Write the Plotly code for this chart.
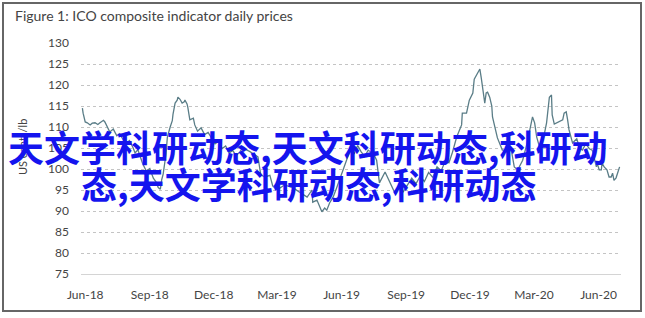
import plotly.graph_objects as go

# ---- data ----
dates = [
    "2018-05-28", "2018-05-29", "2018-06-01", "2018-06-04", "2018-06-08", "2018-06-11", "2018-06-15",
    "2018-06-19", "2018-06-22", "2018-06-27", "2018-06-29", "2018-07-02", "2018-07-06", "2018-07-11",
    "2018-07-16", "2018-07-20", "2018-07-25", "2018-07-30", "2018-08-03", "2018-08-08", "2018-08-11",
    "2018-08-15", "2018-08-18", "2018-08-22", "2018-08-27", "2018-09-01", "2018-09-06", "2018-09-10",
    "2018-09-13", "2018-09-16", "2018-09-18", "2018-09-20", "2018-09-24", "2018-09-26", "2018-09-30",
    "2018-10-03", "2018-10-04", "2018-10-07", "2018-10-10", "2018-10-11", "2018-10-14", "2018-10-17",
    "2018-10-20", "2018-10-21", "2018-10-24", "2018-10-25", "2018-10-28", "2018-11-02", "2018-11-04",
    "2018-11-08", "2018-11-13", "2018-11-18", "2018-11-23", "2018-11-28", "2018-12-03", "2018-12-08",
    "2018-12-13", "2018-12-18", "2018-12-23", "2018-12-28", "2019-01-02", "2019-01-07", "2019-01-11",
    "2019-01-21", "2019-01-29", "2019-02-02", "2019-02-06", "2019-02-12", "2019-02-19", "2019-02-23",
    "2019-03-01", "2019-03-12", "2019-03-24", "2019-04-03", "2019-04-13", "2019-04-20", "2019-04-21",
    "2019-04-27", "2019-05-01", "2019-05-04", "2019-05-08", "2019-05-11", "2019-05-15", "2019-05-20",
    "2019-05-25", "2019-05-30", "2019-06-04", "2019-06-09", "2019-06-14", "2019-06-19", "2019-06-24",
    "2019-06-29", "2019-07-04", "2019-07-09", "2019-07-17", "2019-07-21", "2019-07-25", "2019-08-02",
    "2019-08-09", "2019-08-16", "2019-08-22", "2019-08-28", "2019-09-03", "2019-09-09", "2019-09-15",
    "2019-09-21", "2019-09-27", "2019-10-03", "2019-10-09", "2019-10-15", "2019-10-21", "2019-10-27",
    "2019-11-01", "2019-11-06", "2019-11-12", "2019-11-19", "2019-11-20", "2019-11-26", "2019-11-30",
    "2019-12-05", "2019-12-07", "2019-12-12", "2019-12-15", "2019-12-17", "2019-12-19", "2019-12-22",
    "2019-12-24", "2019-12-26", "2019-12-29", "2020-01-01", "2020-01-02", "2020-01-05", "2020-01-09",
    "2020-01-16", "2020-01-23", "2020-01-29", "2020-02-02", "2020-02-07", "2020-02-14", "2020-02-20",
    "2020-02-28", "2020-03-02", "2020-03-05", "2020-03-09", "2020-03-16", "2020-03-19", "2020-03-23",
    "2020-03-26", "2020-03-27", "2020-03-30", "2020-04-02", "2020-04-06", "2020-04-11", "2020-04-13",
    "2020-04-16", "2020-04-18", "2020-04-20", "2020-04-25", "2020-05-01", "2020-05-05", "2020-05-09",
    "2020-05-14", "2020-05-19", "2020-05-23", "2020-05-29", "2020-05-30", "2020-06-02", "2020-06-05",
    "2020-06-06", "2020-06-09", "2020-06-13", "2020-06-16", "2020-06-19", "2020-06-21", "2020-06-23",
    "2020-06-26", "2020-06-28", "2020-07-01",
]
prices = [
    114.5, 113.3, 111.2, 111.0, 110.5, 110.9, 111.0,
    110.6, 111.0, 111.6, 111.2, 110.0, 108.8, 109.5,
    107.9, 108.4, 107.0, 106.2, 106.8, 105.1, 103.8,
    104.6, 102.9, 101.2, 99.5, 100.1, 97.8, 96.9,
    95.6, 95.2, 97.5, 98.8, 103.5, 107.6, 110.0,
    111.5, 113.0, 115.7, 116.4, 117.1, 116.6, 115.7,
    116.0, 116.4, 115.5, 114.8, 111.7, 112.1, 110.5,
    109.0, 109.8, 108.2, 108.7, 107.3, 106.0, 106.6,
    104.9, 105.5, 103.8, 104.4, 103.2, 104.0, 105.0,
    104.2, 103.4, 102.9, 98.6, 98.1, 98.5, 96.0,
    95.0, 96.2, 95.5, 94.3, 93.3, 95.0, 92.1,
    92.6, 91.0, 89.8, 90.7, 90.2, 91.9, 93.3,
    95.5, 97.8, 100.5, 102.8, 104.8, 103.6, 105.6,
    104.1, 103.0, 104.5, 103.5, 102.1, 96.7, 99.3,
    96.9, 94.3, 95.5, 94.6, 96.2, 97.8, 96.5,
    98.3, 97.0, 99.2, 98.0, 100.5, 99.6, 102.0,
    101.5, 104.0, 107.6, 110.5, 113.3, 113.3, 116.4,
    118.1, 121.4, 122.9, 123.8, 121.7, 118.8, 115.7,
    118.1, 118.3, 117.1, 115.0, 112.4, 110.0, 107.4,
    104.5, 104.5, 104.3, 100.5, 99.8, 102.1, 106.0,
    112.4, 111.0, 107.6, 105.2, 108.5, 111.0, 117.1,
    117.6, 112.9, 110.7, 111.0, 111.2, 111.7, 113.3,
    113.6, 111.7, 109.3, 106.2, 107.2, 105.0, 104.5,
    106.0, 104.8, 104.5, 100.5, 101.4, 99.8, 99.8,
    101.4, 100.5, 99.8, 98.1, 98.1, 99.0, 97.3,
    97.9, 99.0, 100.5,
]
y_ticks = [75, 80, 85, 90, 95, 100, 105, 110, 115, 120, 125, 130]
x_ticks = ["2018-06-01", "2018-09-01", "2018-12-01", "2019-03-01", "2019-06-01",
           "2019-09-01", "2019-12-01", "2020-03-01", "2020-06-01"]
x_tick_labels = ["Jun-18", "Sep-18", "Dec-18", "Mar-19", "Jun-19",
                 "Sep-19", "Dec-19", "Mar-20", "Jun-20"]
title_text = "Figure 1: ICO composite indicator daily prices"
y_title = "US cents/lb"
overlay_1 = "天文学科研动态,天文科研动态,科研动"
overlay_2 = "态,天文学科研动态,科研动态"

W, H = 645, 318
L, R, T, B = 81, 24, 43, 44
pw, ph = W - L - R, H - T - B


def px(x):
    return (x - L) / pw


def py(y):
    return (H - B - y) / ph


fig = go.Figure()
fig.add_trace(go.Scatter(
    x=dates, y=prices, mode="lines",
    line=dict(color="#5a7d87", width=1.3),
    hoverinfo="skip", showlegend=False,
))

font_fam = "Lato, 'Open Sans', sans-serif"
fig.update_layout(
    width=W, height=H,
    margin=dict(l=L, r=R, t=T, b=B, pad=0),
    paper_bgcolor="white", plot_bgcolor="white",
    font=dict(family=font_fam, size=12, color="#444"),
    title=dict(text=title_text, x=15 / W, xanchor="left", y=1 - 16 / H, yanchor="middle",
               font=dict(family=font_fam, size=14, color="#444")),
    xaxis=dict(
        type="date", range=["2018-05-26", "2020-07-03"],
        tickvals=x_ticks, ticktext=x_tick_labels,
        showgrid=False, zeroline=False,
        showline=True, linecolor="#d4d4d4", linewidth=1,
        ticks="", ticklabelstandoff=10,
        tickfont=dict(size=12, color="#444"),
    ),
    yaxis=dict(
        range=[75, 130], tickvals=y_ticks,
        showgrid=True, gridcolor="#c4c4c4", griddash="dot", gridwidth=1,
        zeroline=False, showline=False, ticks="", ticklabelstandoff=11,
        tickfont=dict(size=12, color="#444"),
    ),
    shapes=[dict(type="rect", xref="paper", yref="paper",
                 x0=px(3), x1=px(641), y0=py(311), y1=py(3),
                 line=dict(color="#666", width=2), fillcolor="rgba(0,0,0,0)", layer="above")],
    annotations=[
        dict(text=y_title, textangle=-90, xref="paper", yref="paper",
             x=px(22), y=py(147), xanchor="center", yanchor="middle", showarrow=False,
             font=dict(family=font_fam, size=11, color="#444")),
        dict(text=overlay_1, xref="paper", yref="paper", x=px(6), y=py(146),
             xanchor="left", yanchor="middle", showarrow=False,
             font=dict(family="Noto Sans CJK SC", size=36, color="#1414ee", weight="bold")),
        dict(text=overlay_2, xref="paper", yref="paper", x=px(79), y=py(183),
             xanchor="left", yanchor="middle", showarrow=False,
             font=dict(family="Noto Sans CJK SC", size=36, color="#1414ee", weight="bold")),
    ],
)

fig.write_html("out.html")
